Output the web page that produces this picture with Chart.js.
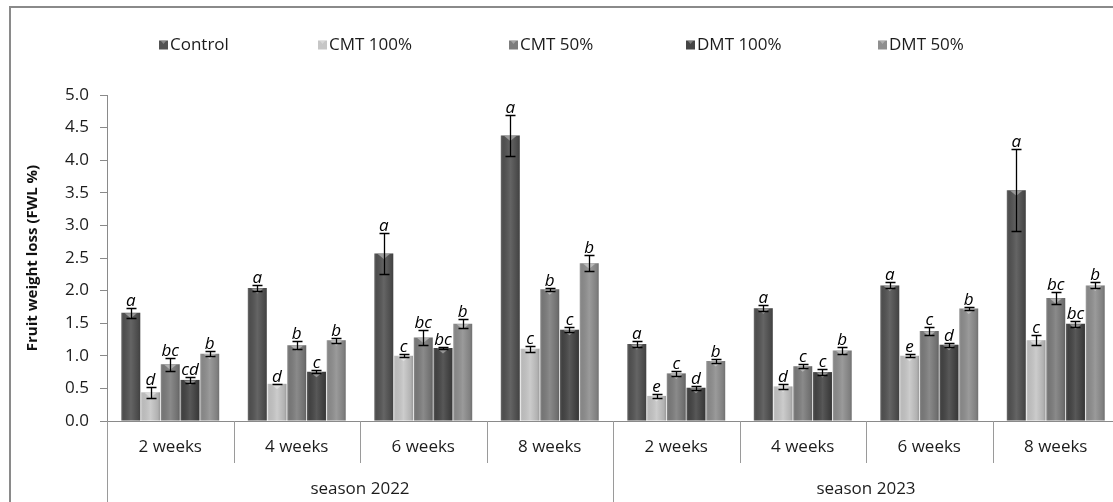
<!DOCTYPE html>
<html>
<head>
<meta charset="utf-8">
<script src="https://cdn.jsdelivr.net/npm/chart.js@4/dist/chart.umd.min.js"></script>
<style>
  html, body { margin: 0; padding: 0; background: #fff; overflow: hidden; width: 1113px; height: 502px; }
  #wrap { position: absolute; left: 0; top: 0; width: 1125px; height: 502px; }
</style>
</head>
<body>
<div id="wrap"><canvas id="c" width="1125" height="502"></canvas></div>
<script>
// Sampling periods (two seasons of four periods each)
const weeks = ['2 weeks', '4 weeks', '6 weeks', '8 weeks', '2 weeks', '4 weeks', '6 weeks', '8 weeks'];
const seasons = ['season 2022', 'season 2023'];
const seriesNames = ['Control', 'CMT 100%', 'CMT 50%', 'DMT 100%', 'DMT 50%'];

// Fruit weight loss (%) means, standard errors and significance letters
const control    = [1.66, 2.04, 2.57, 4.38, 1.18, 1.73, 2.08, 3.54];
const controlErr = [0.08, 0.045, 0.32, 0.31, 0.045, 0.045, 0.045, 0.63];
const controlSig = ['a', 'a', 'a', 'a', 'a', 'a', 'a', 'a'];

const cmt100    = [0.44, 0.57, 1.00, 1.11, 0.385, 0.53, 1.00, 1.24];
const cmt100Err = [0.085, 0.005, 0.02, 0.045, 0.025, 0.04, 0.02, 0.08];
const cmt100Sig = ['d', 'd', 'c', 'c', 'e', 'd', 'e', 'c'];

const cmt50    = [0.87, 1.16, 1.28, 2.02, 0.73, 0.84, 1.38, 1.885];
const cmt50Err = [0.10, 0.06, 0.11, 0.025, 0.04, 0.03, 0.055, 0.095];
const cmt50Sig = ['bc', 'b', 'bc', 'b', 'c', 'c', 'c', 'bc'];

const dmt100    = [0.63, 0.755, 1.12, 1.40, 0.51, 0.75, 1.17, 1.49];
const dmt100Err = [0.05, 0.025, 0.01, 0.04, 0.03, 0.05, 0.03, 0.05];
const dmt100Sig = ['cd', 'c', 'bc', 'c', 'd', 'c', 'd', 'bc'];

const dmt50    = [1.03, 1.24, 1.49, 2.42, 0.92, 1.08, 1.725, 2.08];
const dmt50Err = [0.04, 0.04, 0.07, 0.12, 0.03, 0.055, 0.025, 0.045];
const dmt50Sig = ['b', 'b', 'b', 'b', 'b', 'b', 'b', 'b'];

// Y axis range and step
const yMin = 0, yMax = 5, yStep = 0.5;

const FONT = '"Open Sans", "Liberation Sans", sans-serif';
const INK = '#1c1c1c';
const fills = ['#535353', '#c6c6c6', '#7d7d7d', '#454545', '#8f8f8f'];

function makeSet(i, values, errors, letters) {
  return {
    label: seriesNames[i],
    data: values,
    errors: errors,
    letters: letters,
    backgroundColor: fills[i],
    borderWidth: 0,
    categoryPercentage: 0.78,
    barPercentage: 0.96
  };
}

// Soft bevel shading, error bars and significance letters over each bar
const barDecor = {
  id: 'barDecor',
  afterDatasetsDraw(chart) {
    const ctx = chart.ctx;
    const ys = chart.scales.y;
    ctx.save();
    chart.data.datasets.forEach((ds, di) => {
      const meta = chart.getDatasetMeta(di);
      meta.data.forEach((bar) => {
        const w = bar.width, x0 = bar.x - w / 2, top = bar.y, bottom = bar.base;
        const g = ctx.createLinearGradient(x0, 0, x0 + w, 0);
        g.addColorStop(0, 'rgba(255,255,255,0.18)');
        g.addColorStop(0.12, 'rgba(0,0,0,0.06)');
        g.addColorStop(0.5, 'rgba(255,255,255,0.10)');
        g.addColorStop(0.88, 'rgba(0,0,0,0.10)');
        g.addColorStop(1, 'rgba(0,0,0,0.22)');
        ctx.fillStyle = g;
        ctx.fillRect(x0, top, w, bottom - top);
        // small light wedge at the top of the bar
        ctx.fillStyle = 'rgba(255,255,255,0.38)';
        ctx.beginPath();
        ctx.moveTo(bar.x - w * 0.32, top + 0.5);
        ctx.lineTo(bar.x + w * 0.32, top + 0.5);
        ctx.lineTo(bar.x, top + 5.5);
        ctx.closePath();
        ctx.fill();
      });
    });
    chart.data.datasets.forEach((ds, di) => {
      const meta = chart.getDatasetMeta(di);
      meta.data.forEach((bar, i) => {
        const v = ds.data[i], e = ds.errors[i];
        const yHi = Math.round(ys.getPixelForValue(v + e)) + 0.5;
        const yLo = Math.round(ys.getPixelForValue(v - e)) + 0.5;
        const cx = Math.round(bar.x) + 0.5;
        ctx.strokeStyle = '#000';
        ctx.lineWidth = 1.3;
        ctx.beginPath();
        ctx.moveTo(cx, yHi); ctx.lineTo(cx, yLo);
        ctx.moveTo(cx - 5, yHi); ctx.lineTo(cx + 5, yHi);
        ctx.moveTo(cx - 5, yLo); ctx.lineTo(cx + 5, yLo);
        ctx.stroke();
        ctx.fillStyle = '#000';
        ctx.font = 'italic 17px ' + FONT;
        ctx.textAlign = 'center';
        ctx.textBaseline = 'alphabetic';
        ctx.fillText(ds.letters[i], bar.x, yHi - 3);
      });
    });
    ctx.restore();
  }
};

// Frame, two-level category dividers, season captions and series key
const frame = {
  id: 'frame',
  afterDraw(chart) {
    const ctx = chart.ctx;
    const xs = chart.scales.x;
    const area = chart.chartArea;
    const H = chart.height;
    ctx.save();
    // outer frame
    ctx.strokeStyle = '#8a8a8a';
    ctx.lineWidth = 2;
    ctx.beginPath();
    ctx.moveTo(10, H + 2); ctx.lineTo(10, 7); ctx.lineTo(chart.width + 2, 7);
    ctx.stroke();

    // dividers under the axis
    ctx.strokeStyle = '#9a9a9a';
    ctx.lineWidth = 1;
    const n = weeks.length;
    const half = (xs.getPixelForValue(1) - xs.getPixelForValue(0)) / 2;
    for (let i = 0; i <= n; i++) {
      const x = Math.round(i < n ? xs.getPixelForValue(i) - half : xs.getPixelForValue(n - 1) + half) + 0.5;
      const long = (i % 4 === 0);
      ctx.beginPath();
      ctx.moveTo(x, area.bottom);
      ctx.lineTo(x, long ? H : area.bottom + 42);
      ctx.stroke();
    }

    // season captions
    ctx.fillStyle = INK;
    ctx.font = '17px ' + FONT;
    ctx.textAlign = 'center';
    ctx.textBaseline = 'middle';
    seasons.forEach((s, k) => {
      const a = xs.getPixelForValue(k * 4) - half;
      const b = xs.getPixelForValue(k * 4 + 3) + half;
      ctx.fillText(s, (a + b) / 2, 489);
    });

    // series key
    const keyX = [159, 318, 509, 686, 878];
    const keyY = 45;
    ctx.textAlign = 'left';
    chart.data.datasets.forEach((ds, i) => {
      const x = keyX[i];
      ctx.fillStyle = ds.backgroundColor;
      ctx.fillRect(x, keyY - 4.5, 9, 9);
      ctx.fillStyle = 'rgba(255,255,255,0.3)';
      ctx.beginPath();
      ctx.moveTo(x + 2, keyY - 4); ctx.lineTo(x + 7, keyY - 4); ctx.lineTo(x + 4.5, keyY - 1);
      ctx.closePath(); ctx.fill();
      ctx.fillStyle = INK;
      ctx.fillText(ds.label, x + 11, keyY);
    });
    ctx.restore();
  }
};

new Chart(document.getElementById('c'), {
  type: 'bar',
  data: {
    labels: weeks,
    datasets: [
      makeSet(0, control, controlErr, controlSig),
      makeSet(1, cmt100, cmt100Err, cmt100Sig),
      makeSet(2, cmt50, cmt50Err, cmt50Sig),
      makeSet(3, dmt100, dmt100Err, dmt100Sig),
      makeSet(4, dmt50, dmt50Err, dmt50Sig)
    ]
  },
  options: {
    responsive: false,
    animation: false,
    devicePixelRatio: 1,
    layout: { padding: { top: 95, right: 6, bottom: 0, left: 0 } },
    plugins: { legend: { display: false }, tooltip: { enabled: false } },
    scales: {
      x: {
        afterFit(s) { s.height = 81; },
        grid: { display: false, drawTicks: false },
        border: { display: true, color: '#8a8a8a', width: 1 },
        ticks: { color: INK, font: { family: FONT, size: 17 }, padding: 16, maxRotation: 0, autoSkip: false }
      },
      y: {
        min: yMin, max: yMax,
        afterFit(s) { s.width = 107; },
        grid: { drawOnChartArea: false, drawTicks: true, tickLength: 7, color: '#8a8a8a' },
        border: { display: true, color: '#8a8a8a', width: 1 },
        ticks: { stepSize: yStep, color: INK, padding: 11, font: { family: FONT, size: 17 },
                 callback: v => Number(v).toFixed(1) },
        title: { display: true, text: 'Fruit weight loss (FWL %)', color: '#111',
                 font: { family: FONT, size: 15, weight: 'bold' }, padding: { top: 24, bottom: 0 } }
      }
    }
  },
  plugins: [barDecor, frame]
});
</script>
</body>
</html>
